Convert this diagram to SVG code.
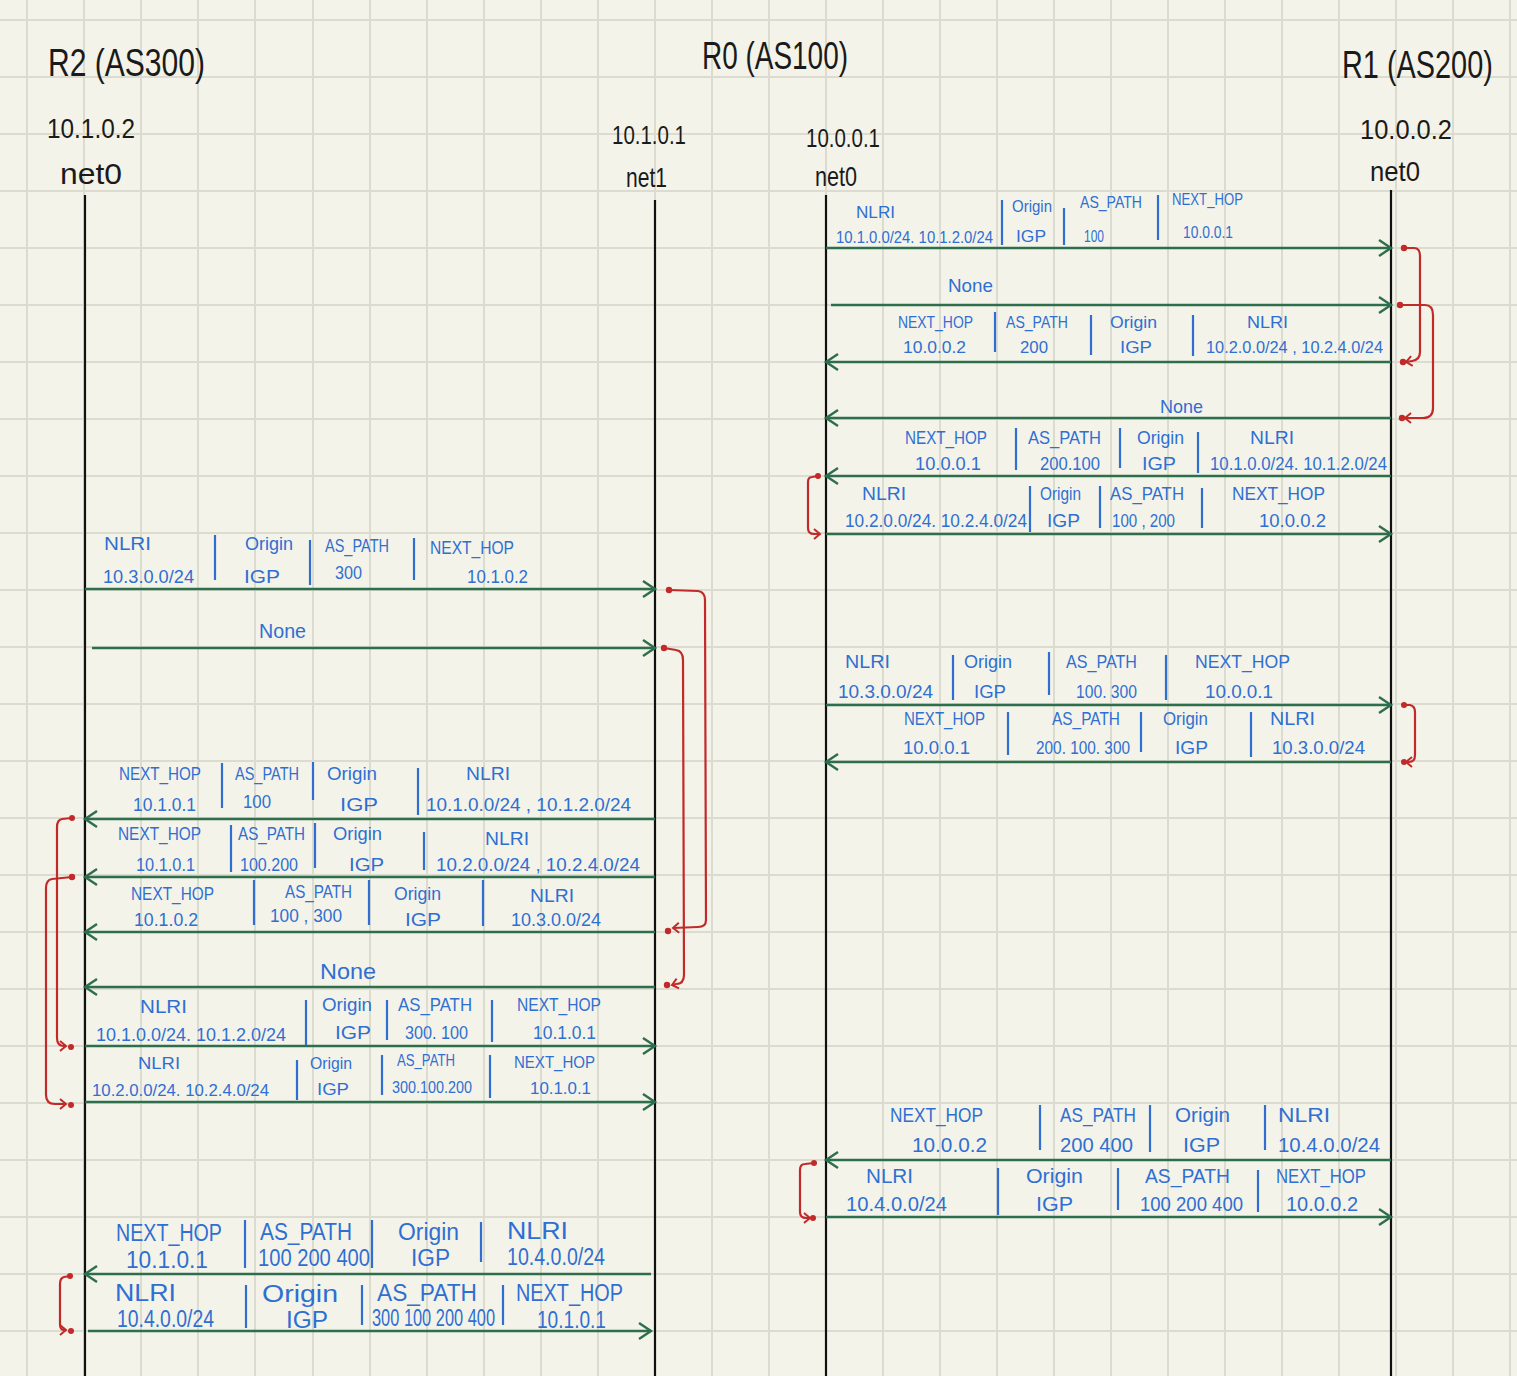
<svg xmlns="http://www.w3.org/2000/svg" width="1517" height="1376" viewBox="0 0 1517 1376">
<defs>
<style>
.bg{fill:#f4f3e9}
.grid line{stroke:#dcdbcf;stroke-width:2}
.life{stroke:#111;stroke-width:2.2}
.ttl{font-family:"Liberation Sans",Arial,sans-serif;fill:#1a1a1a;font-weight:normal}
.msg{stroke:#2d6e4c;stroke-width:2.4;fill:none}
.t{font-family:"Liberation Sans",Arial,sans-serif;fill:#2f6fd2}
.sep{stroke:#2f6fd2;stroke-width:2.2}
.br{stroke:#c22a2a;stroke-width:2.2;fill:none}
.dot{fill:#c22a2a}
</style>
<marker id="ah" markerUnits="userSpaceOnUse" markerWidth="20" markerHeight="22" refX="13" refY="9" orient="auto">
<path d="M1,1 L13,9 L1,17" fill="none" stroke="#2d6e4c" stroke-width="2.4"/>
</marker>
<marker id="rh" markerUnits="userSpaceOnUse" markerWidth="12" markerHeight="14" refX="7" refY="6" orient="auto">
<path d="M1,1 L7,6 L1,11" fill="none" stroke="#c22a2a" stroke-width="2"/>
</marker>
</defs>
<rect class="bg" x="0" y="0" width="1517" height="1376"/>
<g class="grid">
<line x1="27" y1="0" x2="27" y2="1376"/><line x1="84" y1="0" x2="84" y2="1376"/><line x1="141" y1="0" x2="141" y2="1376"/><line x1="198" y1="0" x2="198" y2="1376"/><line x1="255" y1="0" x2="255" y2="1376"/><line x1="313" y1="0" x2="313" y2="1376"/><line x1="370" y1="0" x2="370" y2="1376"/><line x1="427" y1="0" x2="427" y2="1376"/><line x1="484" y1="0" x2="484" y2="1376"/><line x1="541" y1="0" x2="541" y2="1376"/><line x1="598" y1="0" x2="598" y2="1376"/><line x1="655" y1="0" x2="655" y2="1376"/><line x1="712" y1="0" x2="712" y2="1376"/><line x1="769" y1="0" x2="769" y2="1376"/><line x1="826" y1="0" x2="826" y2="1376"/><line x1="883" y1="0" x2="883" y2="1376"/><line x1="940" y1="0" x2="940" y2="1376"/><line x1="997" y1="0" x2="997" y2="1376"/><line x1="1054" y1="0" x2="1054" y2="1376"/><line x1="1111" y1="0" x2="1111" y2="1376"/><line x1="1168" y1="0" x2="1168" y2="1376"/><line x1="1225" y1="0" x2="1225" y2="1376"/><line x1="1282" y1="0" x2="1282" y2="1376"/><line x1="1339" y1="0" x2="1339" y2="1376"/><line x1="1396" y1="0" x2="1396" y2="1376"/><line x1="1453" y1="0" x2="1453" y2="1376"/><line x1="1510" y1="0" x2="1510" y2="1376"/>
<line x1="0" y1="20" x2="1517" y2="20"/><line x1="0" y1="77" x2="1517" y2="77"/><line x1="0" y1="134" x2="1517" y2="134"/><line x1="0" y1="191" x2="1517" y2="191"/><line x1="0" y1="248" x2="1517" y2="248"/><line x1="0" y1="305" x2="1517" y2="305"/><line x1="0" y1="362" x2="1517" y2="362"/><line x1="0" y1="419" x2="1517" y2="419"/><line x1="0" y1="476" x2="1517" y2="476"/><line x1="0" y1="533" x2="1517" y2="533"/><line x1="0" y1="590" x2="1517" y2="590"/><line x1="0" y1="647" x2="1517" y2="647"/><line x1="0" y1="704" x2="1517" y2="704"/><line x1="0" y1="761" x2="1517" y2="761"/><line x1="0" y1="818" x2="1517" y2="818"/><line x1="0" y1="875" x2="1517" y2="875"/><line x1="0" y1="932" x2="1517" y2="932"/><line x1="0" y1="989" x2="1517" y2="989"/><line x1="0" y1="1046" x2="1517" y2="1046"/><line x1="0" y1="1103" x2="1517" y2="1103"/><line x1="0" y1="1160" x2="1517" y2="1160"/><line x1="0" y1="1217" x2="1517" y2="1217"/><line x1="0" y1="1274" x2="1517" y2="1274"/><line x1="0" y1="1331" x2="1517" y2="1331"/>
</g>

<g id="r2-net0">
<text class="ttl" x="48" y="76" font-size="38" textLength="157" lengthAdjust="spacingAndGlyphs">R2 (AS300)</text>
<text class="ttl" x="47" y="138" font-size="28" textLength="88" lengthAdjust="spacingAndGlyphs">10.1.0.2</text>
<text class="ttl" x="60" y="184" font-size="30" textLength="62" lengthAdjust="spacingAndGlyphs">net0</text>
<line class="life" x1="85" y1="195" x2="85" y2="1376"/>
</g>
<g id="r0-title">
<text class="ttl" x="702" y="69" font-size="38" textLength="146" lengthAdjust="spacingAndGlyphs">R0 (AS100)</text>
</g>
<g id="r0-net1">
<text class="ttl" x="612" y="144" font-size="25" textLength="74" lengthAdjust="spacingAndGlyphs">10.1.0.1</text>
<text class="ttl" x="626" y="187" font-size="28" textLength="41" lengthAdjust="spacingAndGlyphs">net1</text>
<line class="life" x1="655" y1="200" x2="655" y2="1376"/>
</g>
<g id="r0-net0">
<text class="ttl" x="806" y="147" font-size="25" textLength="74" lengthAdjust="spacingAndGlyphs">10.0.0.1</text>
<text class="ttl" x="815" y="186" font-size="28" textLength="42" lengthAdjust="spacingAndGlyphs">net0</text>
<line class="life" x1="826" y1="195" x2="826" y2="1376"/>
</g>
<g id="r1-net0">
<text class="ttl" transform="translate(1342,78) scale(0.76,1)" x="0" y="0" font-size="38">R1 (AS200)</text>
<text class="ttl" x="1360" y="139" font-size="28" textLength="92" lengthAdjust="spacingAndGlyphs">10.0.0.2</text>
<text class="ttl" x="1370" y="181" font-size="28" textLength="50" lengthAdjust="spacingAndGlyphs">net0</text>
<line class="life" x1="1391" y1="190" x2="1391" y2="1376"/>
</g>

<g id="connectors">
<g id="m1" font-size="17">
<line class="msg" x1="826" y1="248" x2="1391" y2="248" marker-end="url(#ah)"/>
<text class="t" x="856" y="218" textLength="39" lengthAdjust="spacingAndGlyphs">NLRI</text>
<text class="t" x="1012" y="212" textLength="40" lengthAdjust="spacingAndGlyphs">Origin</text>
<text class="t" x="1080" y="208" textLength="62" lengthAdjust="spacingAndGlyphs">AS_PATH</text>
<text class="t" x="1172" y="205" textLength="71" lengthAdjust="spacingAndGlyphs">NEXT_HOP</text>
<text class="t" x="836" y="243" textLength="157" lengthAdjust="spacingAndGlyphs">10.1.0.0/24. 10.1.2.0/24</text>
<text class="t" x="1016" y="242" textLength="30" lengthAdjust="spacingAndGlyphs">IGP</text>
<text class="t" x="1084" y="242" textLength="20" lengthAdjust="spacingAndGlyphs">100</text>
<text class="t" x="1183" y="238" textLength="50" lengthAdjust="spacingAndGlyphs">10.0.0.1</text>
<line class="sep" x1="1002" y1="200" x2="1002" y2="245"/><line class="sep" x1="1064" y1="208" x2="1064" y2="245"/><line class="sep" x1="1158" y1="195" x2="1158" y2="240"/>
</g>
<g id="m2" font-size="19">
<line class="msg" x1="831" y1="305" x2="1391" y2="305" marker-end="url(#ah)"/>
<text class="t" x="948" y="292" textLength="45" lengthAdjust="spacingAndGlyphs">None</text>
</g>
<g id="m3" font-size="17">
<line class="msg" x1="1391" y1="362" x2="826" y2="362" marker-end="url(#ah)"/>
<text class="t" x="898" y="328" textLength="75" lengthAdjust="spacingAndGlyphs">NEXT_HOP</text>
<text class="t" x="1006" y="328" textLength="62" lengthAdjust="spacingAndGlyphs">AS_PATH</text>
<text class="t" x="1110" y="328" textLength="47" lengthAdjust="spacingAndGlyphs">Origin</text>
<text class="t" x="1247" y="328" textLength="41" lengthAdjust="spacingAndGlyphs">NLRI</text>
<text class="t" x="903" y="353" textLength="63" lengthAdjust="spacingAndGlyphs">10.0.0.2</text>
<text class="t" x="1020" y="353" textLength="28" lengthAdjust="spacingAndGlyphs">200</text>
<text class="t" x="1120" y="353" textLength="32" lengthAdjust="spacingAndGlyphs">IGP</text>
<text class="t" x="1206" y="353" textLength="177" lengthAdjust="spacingAndGlyphs">10.2.0.0/24 , 10.2.4.0/24</text>
<line class="sep" x1="995" y1="312" x2="995" y2="352"/><line class="sep" x1="1091" y1="315" x2="1091" y2="355"/><line class="sep" x1="1193" y1="315" x2="1193" y2="356"/>
</g>
<g id="m4" font-size="19">
<line class="msg" x1="1391" y1="418" x2="826" y2="418" marker-end="url(#ah)"/>
<text class="t" x="1160" y="413" textLength="43" lengthAdjust="spacingAndGlyphs">None</text>
</g>
<g id="m5" font-size="18">
<line class="msg" x1="1391" y1="476" x2="826" y2="476" marker-end="url(#ah)"/>
<text class="t" x="905" y="444" textLength="82" lengthAdjust="spacingAndGlyphs">NEXT_HOP</text>
<text class="t" x="1028" y="444" textLength="73" lengthAdjust="spacingAndGlyphs">AS_PATH</text>
<text class="t" x="1137" y="444" textLength="47" lengthAdjust="spacingAndGlyphs">Origin</text>
<text class="t" x="1250" y="444" textLength="44" lengthAdjust="spacingAndGlyphs">NLRI</text>
<text class="t" x="915" y="470" textLength="66" lengthAdjust="spacingAndGlyphs">10.0.0.1</text>
<text class="t" x="1040" y="470" textLength="60" lengthAdjust="spacingAndGlyphs">200.100</text>
<text class="t" x="1142" y="470" textLength="34" lengthAdjust="spacingAndGlyphs">IGP</text>
<text class="t" x="1210" y="470" textLength="177" lengthAdjust="spacingAndGlyphs">10.1.0.0/24. 10.1.2.0/24</text>
<line class="sep" x1="1016" y1="428" x2="1016" y2="470"/><line class="sep" x1="1120" y1="428" x2="1120" y2="468"/><line class="sep" x1="1198" y1="432" x2="1198" y2="473"/>
</g>
<g id="m6" font-size="18">
<line class="msg" x1="826" y1="534" x2="1391" y2="534" marker-end="url(#ah)"/>
<text class="t" x="862" y="500" textLength="44" lengthAdjust="spacingAndGlyphs">NLRI</text>
<text class="t" x="1040" y="500" textLength="41" lengthAdjust="spacingAndGlyphs">Origin</text>
<text class="t" x="1110" y="500" textLength="74" lengthAdjust="spacingAndGlyphs">AS_PATH</text>
<text class="t" x="1232" y="500" textLength="93" lengthAdjust="spacingAndGlyphs">NEXT_HOP</text>
<text class="t" x="845" y="527" textLength="182" lengthAdjust="spacingAndGlyphs">10.2.0.0/24. 10.2.4.0/24</text>
<text class="t" x="1047" y="527" textLength="33" lengthAdjust="spacingAndGlyphs">IGP</text>
<text class="t" x="1112" y="527" textLength="63" lengthAdjust="spacingAndGlyphs">100 , 200</text>
<text class="t" x="1259" y="527" textLength="67" lengthAdjust="spacingAndGlyphs">10.0.0.2</text>
<line class="sep" x1="1030" y1="486" x2="1030" y2="532"/><line class="sep" x1="1100" y1="486" x2="1100" y2="528"/><line class="sep" x1="1202" y1="488" x2="1202" y2="528"/>
</g>
<g id="m7" font-size="19">
<line class="msg" x1="826" y1="705" x2="1391" y2="705" marker-end="url(#ah)"/>
<text class="t" x="845" y="668" textLength="45" lengthAdjust="spacingAndGlyphs">NLRI</text>
<text class="t" x="964" y="668" textLength="48" lengthAdjust="spacingAndGlyphs">Origin</text>
<text class="t" x="1066" y="668" textLength="71" lengthAdjust="spacingAndGlyphs">AS_PATH</text>
<text class="t" x="1195" y="668" textLength="95" lengthAdjust="spacingAndGlyphs">NEXT_HOP</text>
<text class="t" x="838" y="698" textLength="95" lengthAdjust="spacingAndGlyphs">10.3.0.0/24</text>
<text class="t" x="974" y="698" textLength="32" lengthAdjust="spacingAndGlyphs">IGP</text>
<text class="t" x="1076" y="698" textLength="61" lengthAdjust="spacingAndGlyphs">100. 300</text>
<text class="t" x="1205" y="698" textLength="68" lengthAdjust="spacingAndGlyphs">10.0.0.1</text>
<line class="sep" x1="953" y1="655" x2="953" y2="700"/><line class="sep" x1="1049" y1="652" x2="1049" y2="695"/><line class="sep" x1="1166" y1="655" x2="1166" y2="700"/>
</g>
<g id="m8" font-size="18">
<line class="msg" x1="1391" y1="762" x2="826" y2="762" marker-end="url(#ah)"/>
<text class="t" x="904" y="725" textLength="81" lengthAdjust="spacingAndGlyphs">NEXT_HOP</text>
<text class="t" x="1052" y="725" textLength="68" lengthAdjust="spacingAndGlyphs">AS_PATH</text>
<text class="t" x="1163" y="725" textLength="45" lengthAdjust="spacingAndGlyphs">Origin</text>
<text class="t" x="1270" y="725" textLength="45" lengthAdjust="spacingAndGlyphs">NLRI</text>
<text class="t" x="903" y="754" textLength="67" lengthAdjust="spacingAndGlyphs">10.0.0.1</text>
<text class="t" x="1036" y="754" textLength="94" lengthAdjust="spacingAndGlyphs">200. 100. 300</text>
<text class="t" x="1175" y="754" textLength="33" lengthAdjust="spacingAndGlyphs">IGP</text>
<text class="t" x="1272" y="754" textLength="93" lengthAdjust="spacingAndGlyphs">10.3.0.0/24</text>
<line class="sep" x1="1008" y1="712" x2="1008" y2="755"/><line class="sep" x1="1141" y1="712" x2="1141" y2="752"/><line class="sep" x1="1251" y1="712" x2="1251" y2="757"/>
</g>
<g id="m9" font-size="20">
<line class="msg" x1="1391" y1="1160" x2="826" y2="1160" marker-end="url(#ah)"/>
<text class="t" x="890" y="1122" textLength="93" lengthAdjust="spacingAndGlyphs">NEXT_HOP</text>
<text class="t" x="1060" y="1122" textLength="76" lengthAdjust="spacingAndGlyphs">AS_PATH</text>
<text class="t" x="1175" y="1122" textLength="55" lengthAdjust="spacingAndGlyphs">Origin</text>
<text class="t" x="1278" y="1122" textLength="52" lengthAdjust="spacingAndGlyphs">NLRI</text>
<text class="t" x="912" y="1152" textLength="75" lengthAdjust="spacingAndGlyphs">10.0.0.2</text>
<text class="t" x="1060" y="1152" textLength="73" lengthAdjust="spacingAndGlyphs">200 400</text>
<text class="t" x="1183" y="1152" textLength="37" lengthAdjust="spacingAndGlyphs">IGP</text>
<text class="t" x="1278" y="1152" textLength="102" lengthAdjust="spacingAndGlyphs">10.4.0.0/24</text>
<line class="sep" x1="1040" y1="1105" x2="1040" y2="1150"/><line class="sep" x1="1150" y1="1105" x2="1150" y2="1152"/><line class="sep" x1="1265" y1="1105" x2="1265" y2="1150"/>
</g>
<g id="m10" font-size="20">
<line class="msg" x1="826" y1="1217" x2="1391" y2="1217" marker-end="url(#ah)"/>
<text class="t" x="866" y="1183" textLength="47" lengthAdjust="spacingAndGlyphs">NLRI</text>
<text class="t" x="1026" y="1183" textLength="57" lengthAdjust="spacingAndGlyphs">Origin</text>
<text class="t" x="1145" y="1183" textLength="85" lengthAdjust="spacingAndGlyphs">AS_PATH</text>
<text class="t" x="1276" y="1183" textLength="90" lengthAdjust="spacingAndGlyphs">NEXT_HOP</text>
<text class="t" x="846" y="1211" textLength="101" lengthAdjust="spacingAndGlyphs">10.4.0.0/24</text>
<text class="t" x="1036" y="1211" textLength="37" lengthAdjust="spacingAndGlyphs">IGP</text>
<text class="t" x="1140" y="1211" textLength="103" lengthAdjust="spacingAndGlyphs">100 200 400</text>
<text class="t" x="1286" y="1211" textLength="72" lengthAdjust="spacingAndGlyphs">10.0.0.2</text>
<line class="sep" x1="998" y1="1168" x2="998" y2="1215"/><line class="sep" x1="1118" y1="1168" x2="1118" y2="1210"/><line class="sep" x1="1258" y1="1170" x2="1258" y2="1212"/>
</g>
<g id="m11" font-size="19">
<line class="msg" x1="85" y1="589" x2="655" y2="589" marker-end="url(#ah)"/>
<text class="t" x="104" y="550" textLength="47" lengthAdjust="spacingAndGlyphs">NLRI</text>
<text class="t" x="245" y="550" textLength="48" lengthAdjust="spacingAndGlyphs">Origin</text>
<text class="t" x="325" y="552" textLength="64" lengthAdjust="spacingAndGlyphs">AS_PATH</text>
<text class="t" x="430" y="554" textLength="84" lengthAdjust="spacingAndGlyphs">NEXT_HOP</text>
<text class="t" x="103" y="583" textLength="91" lengthAdjust="spacingAndGlyphs">10.3.0.0/24</text>
<text class="t" x="244" y="583" textLength="36" lengthAdjust="spacingAndGlyphs">IGP</text>
<text class="t" x="335" y="579" textLength="27" lengthAdjust="spacingAndGlyphs">300</text>
<text class="t" x="467" y="583" textLength="61" lengthAdjust="spacingAndGlyphs">10.1.0.2</text>
<line class="sep" x1="215" y1="535" x2="215" y2="580"/><line class="sep" x1="310" y1="540" x2="310" y2="585"/><line class="sep" x1="414" y1="538" x2="414" y2="580"/>
</g>
<g id="m12" font-size="20">
<line class="msg" x1="92" y1="648" x2="655" y2="648" marker-end="url(#ah)"/>
<text class="t" x="259" y="638" textLength="47" lengthAdjust="spacingAndGlyphs">None</text>
</g>
<g id="m13" font-size="18">
<line class="msg" x1="655" y1="819" x2="85" y2="819" marker-end="url(#ah)"/>
<text class="t" x="119" y="780" textLength="82" lengthAdjust="spacingAndGlyphs">NEXT_HOP</text>
<text class="t" x="235" y="780" textLength="64" lengthAdjust="spacingAndGlyphs">AS_PATH</text>
<text class="t" x="327" y="780" textLength="50" lengthAdjust="spacingAndGlyphs">Origin</text>
<text class="t" x="466" y="780" textLength="44" lengthAdjust="spacingAndGlyphs">NLRI</text>
<text class="t" x="133" y="811" textLength="63" lengthAdjust="spacingAndGlyphs">10.1.0.1</text>
<text class="t" x="243" y="808" textLength="28" lengthAdjust="spacingAndGlyphs">100</text>
<text class="t" x="340" y="811" textLength="38" lengthAdjust="spacingAndGlyphs">IGP</text>
<text class="t" x="426" y="811" textLength="205" lengthAdjust="spacingAndGlyphs">10.1.0.0/24 , 10.1.2.0/24</text>
<line class="sep" x1="222" y1="763" x2="222" y2="808"/><line class="sep" x1="313" y1="762" x2="313" y2="800"/><line class="sep" x1="418" y1="768" x2="418" y2="815"/>
</g>
<g id="m14" font-size="18">
<line class="msg" x1="655" y1="877" x2="85" y2="877" marker-end="url(#ah)"/>
<text class="t" x="118" y="840" textLength="83" lengthAdjust="spacingAndGlyphs">NEXT_HOP</text>
<text class="t" x="238" y="840" textLength="67" lengthAdjust="spacingAndGlyphs">AS_PATH</text>
<text class="t" x="333" y="840" textLength="49" lengthAdjust="spacingAndGlyphs">Origin</text>
<text class="t" x="485" y="845" textLength="44" lengthAdjust="spacingAndGlyphs">NLRI</text>
<text class="t" x="136" y="871" textLength="59" lengthAdjust="spacingAndGlyphs">10.1.0.1</text>
<text class="t" x="240" y="871" textLength="58" lengthAdjust="spacingAndGlyphs">100.200</text>
<text class="t" x="349" y="871" textLength="35" lengthAdjust="spacingAndGlyphs">IGP</text>
<text class="t" x="436" y="871" textLength="204" lengthAdjust="spacingAndGlyphs">10.2.0.0/24 , 10.2.4.0/24</text>
<line class="sep" x1="231" y1="825" x2="231" y2="872"/><line class="sep" x1="315" y1="823" x2="315" y2="868"/><line class="sep" x1="424" y1="832" x2="424" y2="870"/>
</g>
<g id="m15" font-size="18">
<line class="msg" x1="655" y1="932" x2="85" y2="932" marker-end="url(#ah)"/>
<text class="t" x="131" y="900" textLength="83" lengthAdjust="spacingAndGlyphs">NEXT_HOP</text>
<text class="t" x="285" y="898" textLength="67" lengthAdjust="spacingAndGlyphs">AS_PATH</text>
<text class="t" x="394" y="900" textLength="47" lengthAdjust="spacingAndGlyphs">Origin</text>
<text class="t" x="530" y="902" textLength="44" lengthAdjust="spacingAndGlyphs">NLRI</text>
<text class="t" x="134" y="926" textLength="64" lengthAdjust="spacingAndGlyphs">10.1.0.2</text>
<text class="t" x="270" y="922" textLength="72" lengthAdjust="spacingAndGlyphs">100 , 300</text>
<text class="t" x="405" y="926" textLength="36" lengthAdjust="spacingAndGlyphs">IGP</text>
<text class="t" x="511" y="926" textLength="90" lengthAdjust="spacingAndGlyphs">10.3.0.0/24</text>
<line class="sep" x1="254" y1="880" x2="254" y2="925"/><line class="sep" x1="369" y1="880" x2="369" y2="925"/><line class="sep" x1="483" y1="880" x2="483" y2="926"/>
</g>
<g id="m16" font-size="22">
<line class="msg" x1="655" y1="987" x2="85" y2="987" marker-end="url(#ah)"/>
<text class="t" x="320" y="979" textLength="56" lengthAdjust="spacingAndGlyphs">None</text>
</g>
<g id="m17" font-size="18">
<line class="msg" x1="85" y1="1046" x2="655" y2="1046" marker-end="url(#ah)"/>
<text class="t" x="140" y="1013" textLength="47" lengthAdjust="spacingAndGlyphs">NLRI</text>
<text class="t" x="322" y="1011" textLength="50" lengthAdjust="spacingAndGlyphs">Origin</text>
<text class="t" x="398" y="1011" textLength="74" lengthAdjust="spacingAndGlyphs">AS_PATH</text>
<text class="t" x="517" y="1011" textLength="84" lengthAdjust="spacingAndGlyphs">NEXT_HOP</text>
<text class="t" x="96" y="1041" textLength="190" lengthAdjust="spacingAndGlyphs">10.1.0.0/24. 10.1.2.0/24</text>
<text class="t" x="335" y="1039" textLength="36" lengthAdjust="spacingAndGlyphs">IGP</text>
<text class="t" x="405" y="1039" textLength="63" lengthAdjust="spacingAndGlyphs">300. 100</text>
<text class="t" x="533" y="1039" textLength="63" lengthAdjust="spacingAndGlyphs">10.1.0.1</text>
<line class="sep" x1="306" y1="1000" x2="306" y2="1045"/><line class="sep" x1="387" y1="1000" x2="387" y2="1040"/><line class="sep" x1="492" y1="1000" x2="492" y2="1042"/>
</g>
<g id="m18" font-size="16">
<line class="msg" x1="85" y1="1102" x2="655" y2="1102" marker-end="url(#ah)"/>
<text class="t" x="138" y="1069" textLength="42" lengthAdjust="spacingAndGlyphs">NLRI</text>
<text class="t" x="310" y="1069" textLength="42" lengthAdjust="spacingAndGlyphs">Origin</text>
<text class="t" x="397" y="1066" textLength="58" lengthAdjust="spacingAndGlyphs">AS_PATH</text>
<text class="t" x="514" y="1068" textLength="81" lengthAdjust="spacingAndGlyphs">NEXT_HOP</text>
<text class="t" x="92" y="1096" textLength="177" lengthAdjust="spacingAndGlyphs">10.2.0.0/24. 10.2.4.0/24</text>
<text class="t" x="317" y="1095" textLength="32" lengthAdjust="spacingAndGlyphs">IGP</text>
<text class="t" x="392" y="1093" textLength="80" lengthAdjust="spacingAndGlyphs">300.100.200</text>
<text class="t" x="530" y="1094" textLength="61" lengthAdjust="spacingAndGlyphs">10.1.0.1</text>
<line class="sep" x1="297" y1="1060" x2="297" y2="1100"/><line class="sep" x1="382" y1="1055" x2="382" y2="1095"/><line class="sep" x1="490" y1="1055" x2="490" y2="1098"/>
</g>
<g id="m19" font-size="23">
<line class="msg" x1="651" y1="1274" x2="85" y2="1274" marker-end="url(#ah)"/>
<text class="t" x="116" y="1241" textLength="106" lengthAdjust="spacingAndGlyphs">NEXT_HOP</text>
<text class="t" x="260" y="1240" textLength="92" lengthAdjust="spacingAndGlyphs">AS_PATH</text>
<text class="t" x="398" y="1240" textLength="61" lengthAdjust="spacingAndGlyphs">Origin</text>
<text class="t" x="507" y="1239" textLength="61" lengthAdjust="spacingAndGlyphs">NLRI</text>
<text class="t" x="126" y="1268" textLength="82" lengthAdjust="spacingAndGlyphs">10.1.0.1</text>
<text class="t" x="258" y="1266" textLength="112" lengthAdjust="spacingAndGlyphs">100 200 400</text>
<text class="t" x="411" y="1266" textLength="39" lengthAdjust="spacingAndGlyphs">IGP</text>
<text class="t" x="507" y="1265" textLength="98" lengthAdjust="spacingAndGlyphs">10.4.0.0/24</text>
<line class="sep" x1="245" y1="1220" x2="245" y2="1268"/><line class="sep" x1="372" y1="1220" x2="372" y2="1268"/><line class="sep" x1="481" y1="1222" x2="481" y2="1262"/>
</g>
<g id="m20" font-size="23">
<line class="msg" x1="88" y1="1331" x2="651" y2="1331" marker-end="url(#ah)"/>
<text class="t" x="115" y="1301" textLength="61" lengthAdjust="spacingAndGlyphs">NLRI</text>
<text class="t" x="262" y="1302" textLength="76" lengthAdjust="spacingAndGlyphs">Origin</text>
<text class="t" x="377" y="1301" textLength="100" lengthAdjust="spacingAndGlyphs">AS_PATH</text>
<text class="t" x="516" y="1301" textLength="107" lengthAdjust="spacingAndGlyphs">NEXT_HOP</text>
<text class="t" x="117" y="1327" textLength="97" lengthAdjust="spacingAndGlyphs">10.4.0.0/24</text>
<text class="t" x="286" y="1328" textLength="42" lengthAdjust="spacingAndGlyphs">IGP</text>
<text class="t" x="372" y="1326" textLength="123" lengthAdjust="spacingAndGlyphs">300 100 200 400</text>
<text class="t" x="537" y="1328" textLength="69" lengthAdjust="spacingAndGlyphs">10.1.0.1</text>
<line class="sep" x1="246" y1="1285" x2="246" y2="1328"/><line class="sep" x1="362" y1="1285" x2="362" y2="1325"/><line class="sep" x1="503" y1="1285" x2="503" y2="1325"/>
</g>
</g>

<g id="brackets">
<path class="br" d="M1404,248 L1414,248 Q1420,248 1420,256 L1420,352 Q1420,360 1412,361 L1406,362" marker-end="url(#rh)"/>
<circle class="dot" cx="1404" cy="248" r="3.2"/><circle class="dot" cx="1403" cy="362" r="3.2"/>
<path class="br" d="M1400,305 L1425,305 Q1433,305 1433,315 L1433,408 Q1433,418 1423,418 L1405,418" marker-end="url(#rh)"/>
<circle class="dot" cx="1400" cy="305" r="3.2"/><circle class="dot" cx="1402" cy="418" r="3.2"/>
<path class="br" d="M669,590 L698,591 Q705,592 705,600 L706,920 Q706,927 698,927 L673,928" marker-end="url(#rh)"/>
<circle class="dot" cx="669" cy="590" r="3.2"/><circle class="dot" cx="668" cy="931" r="3.2"/>
<path class="br" d="M664,648 L676,650 Q683,651 683,660 L684,975 Q684,984 676,984 L672,985" marker-end="url(#rh)"/>
<circle class="dot" cx="664" cy="648" r="3.2"/><circle class="dot" cx="667" cy="985" r="3.2"/>
<path class="br" d="M818,476 L812,477 Q808,477 808,482 L808,528 Q808,534 814,534 L820,534" marker-end="url(#rh)"/>
<circle class="dot" cx="818" cy="476" r="3"/>
<path class="br" d="M1404,705 L1410,705 Q1415,706 1415,712 L1415,755 Q1415,762 1409,762 L1406,762" marker-end="url(#rh)"/>
<circle class="dot" cx="1404" cy="705" r="3"/><circle class="dot" cx="1404" cy="762" r="3"/>
<path class="br" d="M814,1163 L805,1164 Q800,1164 800,1170 L800,1212 Q800,1218 806,1218 L810,1218" marker-end="url(#rh)"/>
<circle class="dot" cx="814" cy="1163" r="3"/><circle class="dot" cx="813" cy="1218" r="3"/>
<path class="br" d="M72,818 L62,819 Q57,820 57,827 L57,1038 Q57,1046 64,1046 L66,1046" marker-end="url(#rh)"/>
<circle class="dot" cx="72" cy="818" r="3"/><circle class="dot" cx="71" cy="1047" r="3"/>
<path class="br" d="M72,877 L52,879 Q46,880 46,888 L46,1095 Q46,1104 55,1104 L66,1104" marker-end="url(#rh)"/>
<circle class="dot" cx="72" cy="877" r="3.2"/><circle class="dot" cx="71" cy="1105" r="3"/>
<path class="br" d="M70,1276 L64,1277 Q60,1278 60,1284 L60,1324 Q60,1330 64,1330 L66,1330" marker-end="url(#rh)"/>
<circle class="dot" cx="70" cy="1276" r="3"/><circle class="dot" cx="71" cy="1331" r="3"/>
</g>
</svg>
